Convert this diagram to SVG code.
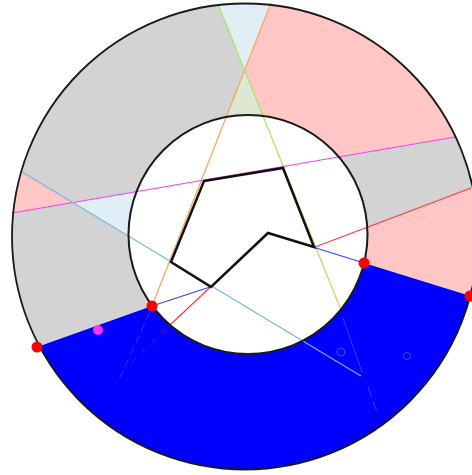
<svg xmlns="http://www.w3.org/2000/svg" width="472" height="475" viewBox="0 0 472 475">
<style>
.ln{fill:none;stroke-width:1.2}
.faint{fill:none;stroke-width:1;opacity:0.55}
.dot{fill:#ff0000}
.rim{fill:none;stroke:#1a1a1a}
</style>
<defs>
<clipPath id="ring">
<path clip-rule="evenodd" d="M12,236.5 a233,233 0 1,0 466,0 a233,233 0 1,0 -466,0 Z M128.5,234.5 a119.5,119.5 0 1,0 239,0 a119.5,119.5 0 1,0 -239,0 Z"/>
</clipPath>
</defs>
<rect width="472" height="475" fill="#ffffff"/>
<g id="faces" clip-path="url(#ring)">
<rect x="0" y="0" width="472" height="475" fill="#d3d3d3"/>
<polygon id="pink-top" points="274.5,-5 244.6,71 283.1,166.5 490,131 490,-5" fill="#ffc6c6"/>
<polygon id="blue-top" points="214,-5 244.6,71 274.5,-5" fill="#e0eef5"/>
<polygon id="green-mid" points="244.6,71 217.4,140 272.4,140" fill="#dce8d2"/>
<polygon id="pink-right" points="490,180.8 340,237.5 340,255.5 490,302.2" fill="#ffc6c6"/>
<polygon id="pink-left" points="0,158.8 72.8,202.6 0,215.1" fill="#ffc6c6"/>
<polygon id="blue-left" points="72.8,202.6 180,184.2 180,267.1" fill="#e0eef5"/>
<polygon id="blue-bottom" points="0,360.2 152,306 248,234.5 364,263 490,302.2 490,490 0,490" fill="#0000ff"/>
</g>
<g id="connectors">
<path class="ln" stroke="#f7a25a" d="M271,3 L152,306"/>
<path class="ln" stroke="#a8e45c" d="M218,4 L341,310"/>
<path class="ln" stroke="#ee44ee" stroke-width="1.5" d="M12,213 L455,137"/>
<path class="ln" stroke="#7ab6da" d="M22,172 L361,376"/>
<path class="ln" stroke="#ff3a3a" d="M471,188 L315,247 M268,233 L170,325"/>
<path class="ln" stroke="#3344ff" stroke-width="1.5" d="M152,306 L210,287 M268,233 L364,263"/>
<path class="faint" stroke="#7a50e0" stroke-dasharray="8,5" d="M150,312 L117,384"/>
<path class="faint" stroke="#c03070" stroke-dasharray="6,8" d="M166,329 L128,366"/>
<path class="faint" stroke="#5a78ff" d="M343,318 L362,372"/>
<path class="faint" stroke="#5a78ff" stroke-dasharray="10,5" d="M368,387 L377,412"/>
<circle class="faint" stroke="#6a88ff" cx="341" cy="352" r="4"/>
<circle class="faint" stroke="#6a88ff" cx="407" cy="356" r="3.5"/>
</g>
<g id="outline">
<circle class="rim" cx="245" cy="236.5" r="233" stroke-width="1.8"/>
<circle class="rim" cx="248" cy="234.5" r="119.5" stroke-width="2"/>
</g>
<g id="polygon">
<polygon points="204,181 283,168 314,247 268,233 211,287 171,262" fill="none" stroke="#111111" stroke-width="2.5" stroke-linejoin="miter"/>
</g>
<g id="points">
<circle class="dot" cx="37" cy="347" r="5.5"/>
<circle class="dot" cx="152" cy="306" r="5.5"/>
<circle class="dot" cx="364" cy="263" r="5.5"/>
<circle class="dot" cx="470" cy="296" r="5.5"/>
<circle cx="98" cy="330" r="5" fill="#ff33ff"/>
</g>
</svg>
